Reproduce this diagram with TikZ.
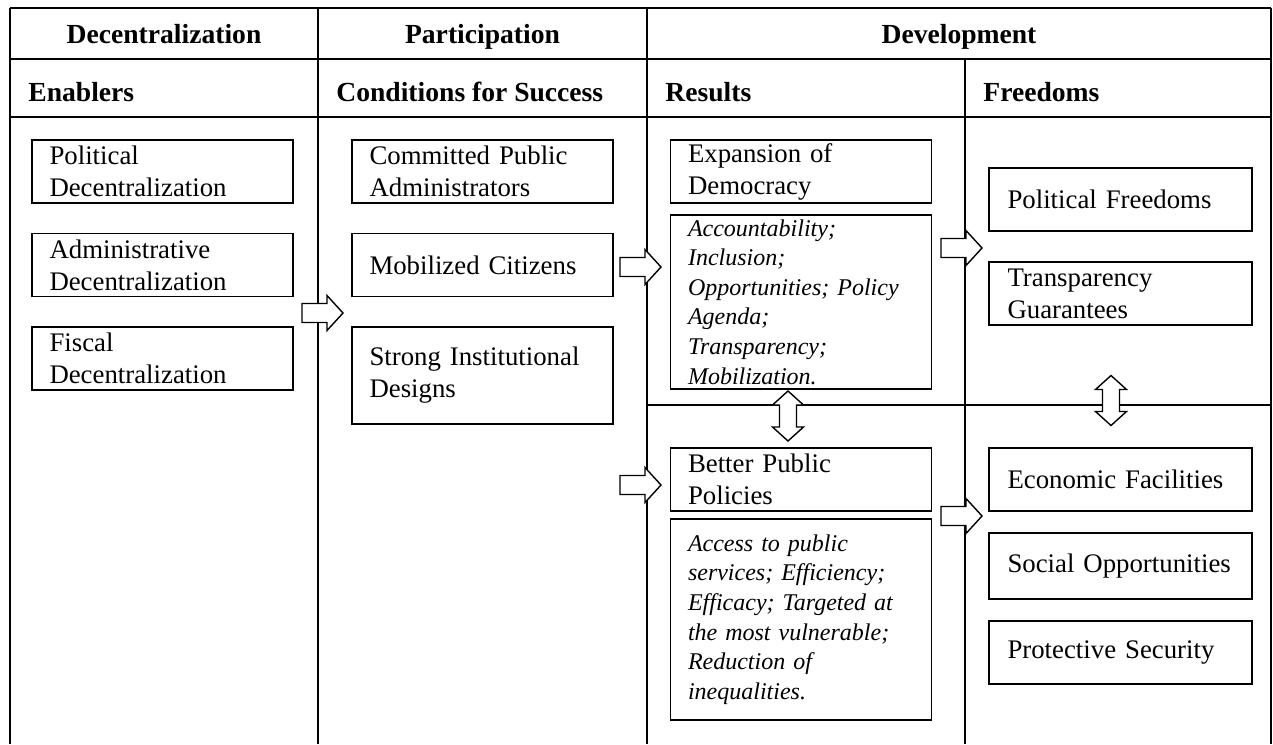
\documentclass[tikz,border=0pt]{standalone}
\usepackage{fontspec}
\setmainfont{Liberation Serif}
\usetikzlibrary{positioning}

\begin{document}
\begin{tikzpicture}[
  x=0.5pt,y=-0.5pt,
  every node/.style={font=\fontsize{13.4}{16}\selectfont},
  frame/.style={line width=0.6pt},
  head/.style={font=\fontsize{13.8}{16}\selectfont\bfseries,inner sep=0pt},
  txtbox/.style={draw,line width=0.7pt,minimum width=130.5pt,minimum height=31.5pt,
                 text width=113pt,inner xsep=8.75pt,inner ysep=0pt,align=left},
  notebox/.style={txtbox,font=\fontsize{12}{14.8}\selectfont\itshape},
  blockarr/.pic={\draw[line width=0.7pt,fill=white]
      (0,-9.5) -- (25,-9.5) -- (25,-17.5) -- (41,0) -- (25,17.5) -- (25,9.5) -- (0,9.5) -- cycle;},
  dblarr/.pic={\draw[line width=0.7pt,fill=white]
      (0,-25) -- (15.5,-11) -- (8.5,-11) -- (8.5,11) -- (15.5,11) -- (0,25)
      -- (-15.5,11) -- (-8.5,11) -- (-8.5,-11) -- (-15.5,-11) -- cycle;},
]
  \useasboundingbox (0,0) rectangle (1273,744);

  % Table frame
  \draw[frame] (10,8) -- (1271,8);
  \draw[frame] (10,59) -- (1271,59);
  \draw[frame] (10,117) -- (1271,117);
  \draw[frame] (10,8) -- (10,744);
  \draw[frame] (318,8) -- (318,744);
  \draw[frame] (647,8) -- (647,744);
  \draw[frame] (965,59) -- (965,744);
  \draw[frame] (1271,8) -- (1271,744);
  \draw[frame] (647,405) -- (1271,405);

  % Header rows
  \node[head,anchor=base] (hdec) at (164,43) {Decentralization};
  \node[head,anchor=base] (hpar) at (482.5,43) {Participation};
  \node[head,anchor=base] (hdev) at (959,43) {Development};
  \node[head,anchor=base west] (hen) at (28,101) {Enablers};
  \node[head,anchor=base west] (hcon) at (336,101) {Conditions for Success};
  \node[head,anchor=base west] (hres) at (665,101) {Results};
  \node[head,anchor=base west] (hfre) at (983,101) {Freedoms};

  % Enablers
  \node[txtbox] (pol) at (162.5,171.5) {Political\\Decentralization};
  \node[txtbox] (adm) at (162.5,265) {Administrative\\Decentralization};
  \node[txtbox] (fis) at (162.5,358.5) {Fiscal\\Decentralization};

  % Conditions for success
  \node[txtbox] (com) at (482.5,171.5) {Committed Public\\Administrators};
  \node[txtbox] (mob) at (482.5,265) {Mobilized Citizens};
  \node[txtbox,minimum height=48.5pt] (str) at (482.5,375.5) {Strong~Institutional\\Designs};

  % Results
  \node[txtbox] (exp) at (801,171.5) {Expansion of\\Democracy};
  \node[notebox,minimum height=87pt] (acc) at (801,302)
    {Accountability;\\Inclusion;\\Opportunities;~Policy\\Agenda;\\Transparency;\\Mobilization.};
  \node[txtbox] (bet) at (801,479.5) {Better Public\\Policies};
  \node[notebox,minimum height=100.5pt] (acs) at (801,619.5)
    {Access to public\\services;~Efficiency;\\Efficacy;~Targeted~at\\the~most~vulnerable;\\Reduction of\\inequalities.};

  % Freedoms
  \node[txtbox,minimum width=131.5pt] (pf) at (1120.5,199.5) {Political Freedoms};
  \node[txtbox,minimum width=131.5pt] (tg) at (1120.5,293.5) {Transparency\\Guarantees};
  \node[txtbox,minimum width=131.5pt] (ef) at (1120.5,479.5) {Economic Facilities};
  \node[txtbox,minimum width=131.5pt,minimum height=33pt] (so) at (1120.5,566) {Social~Opportunities};
  \node[txtbox,minimum width=131.5pt] (ps) at (1120.5,652.5) {Protective Security};

  % Block arrows
  \coordinate (a1) at (302,313);
  \coordinate (a2) at (620,267);
  \coordinate (a3) at (620,485);
  \coordinate (a4) at (941,248);
  \coordinate (a5) at (941,516);
  \coordinate (d1) at (788,416);
  \coordinate (d2) at (1111,400.5);
  \foreach \a in {a1,a2,a3,a4,a5}
    \pic at (\a) {blockarr};
  \pic at (d1) {dblarr};
  \pic at (d2) {dblarr};
\end{tikzpicture}
\end{document}
